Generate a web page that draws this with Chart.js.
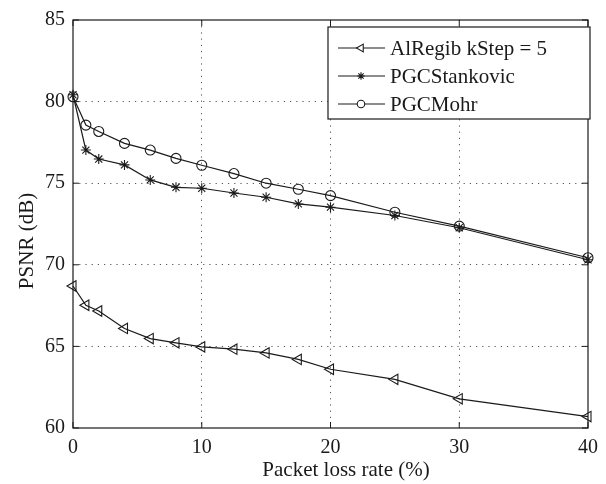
<!DOCTYPE html>
<html>
<head>
<meta charset="utf-8">
<script src="https://cdn.jsdelivr.net/npm/chart.js@4.4.1/dist/chart.umd.min.js"></script>
<style>
  html, body { margin: 0; padding: 0; background: #fff; }
  #wrap { width: 606px; height: 484px; }
</style>
</head>
<body>
<div id="wrap"><canvas id="chart" width="606" height="484"></canvas></div>
<script>
const lossRates = [0, 1, 2, 4, 6, 8, 10, 12.5, 15, 17.5, 20, 25, 30, 40];
const alRegib = [68.7, 67.52, 67.17, 66.1, 65.48, 65.22, 64.97, 64.83, 64.6, 64.2, 63.6, 62.98, 61.79, 60.7];
const pgcStankovic = [80.42, 77.03, 76.48, 76.12, 75.2, 74.75, 74.69, 74.4, 74.14, 73.73, 73.53, 73.02, 72.27, 70.31];
const pgcMohr = [80.3, 78.56, 78.17, 77.44, 77.03, 76.52, 76.1, 75.59, 75.0, 74.63, 74.24, 73.22, 72.37, 70.43];
const seriesNames = ['AlRegib kStep = 5', 'PGCStankovic', 'PGCMohr'];
const xTicks = [0, 10, 20, 30, 40];
const yTicks = [60, 65, 70, 75, 80, 85];
const xTitle = 'Packet loss rate (%)';
const yTitle = 'PSNR (dB)';

const FONT = '"Liberation Serif", "Times New Roman", serif';
const INK = '#1a1a1a';
const NONE = 'rgba(0,0,0,0)';

function toPoints(values) {
    return lossRates.map((x, i) => ({ x: x, y: values[i] }));
}

function makeDataset(label, values, style, radius, rotation) {
    return {
        label: label,
        data: toPoints(values),
        borderColor: INK,
        borderWidth: 1.2,
        backgroundColor: NONE,
        pointStyle: style,
        pointRadius: radius,
        pointRotation: rotation,
        pointBorderColor: INK,
        pointBorderWidth: 1.1,
        pointBackgroundColor: NONE,
        fill: false,
        clip: false,
        tension: 0
    };
}

// plot frame, inward ticks, axis titles and in-plot legend
const framePlugin = {
    id: 'frame',
    afterDatasetsDraw(chart) {
        const { ctx, chartArea: a, scales } = chart;
        ctx.save();
        ctx.strokeStyle = INK;
        ctx.lineWidth = 1.2;
        ctx.strokeRect(a.left, a.top, a.right - a.left, a.bottom - a.top);

        ctx.lineWidth = 1;
        ctx.beginPath();
        xTicks.forEach(v => {
            const px = scales.x.getPixelForValue(v);
            ctx.moveTo(px, a.bottom); ctx.lineTo(px, a.bottom - 6);
            ctx.moveTo(px, a.top); ctx.lineTo(px, a.top + 6);
        });
        yTicks.forEach(v => {
            const py = scales.y.getPixelForValue(v);
            ctx.moveTo(a.left, py); ctx.lineTo(a.left + 6, py);
            ctx.moveTo(a.right, py); ctx.lineTo(a.right - 6, py);
        });
        ctx.stroke();

        // axis titles
        ctx.fillStyle = INK;
        ctx.font = '21px ' + FONT;
        ctx.textAlign = 'center';
        ctx.textBaseline = 'middle';
        ctx.fillText(xTitle, 346, 470);
        ctx.save();
        ctx.translate(27, 241);
        ctx.rotate(-Math.PI / 2);
        ctx.fillText(yTitle, 0, 0);
        ctx.restore();

        // legend box
        const box = { left: 328, top: 27, right: 590, bottom: 119 };
        ctx.fillStyle = '#fff';
        ctx.fillRect(box.left, box.top, box.right - box.left, box.bottom - box.top);
        ctx.strokeStyle = INK;
        ctx.lineWidth = 1.2;
        ctx.strokeRect(box.left, box.top, box.right - box.left, box.bottom - box.top);

        chart.data.datasets.forEach((ds, i) => {
            const y = 48 + i * 28;
            ctx.strokeStyle = INK;
            ctx.beginPath();
            ctx.lineWidth = 1.2;
            ctx.moveTo(338, y);
            ctx.lineTo(385, y);
            ctx.stroke();
            ctx.lineWidth = 1.1;
            ctx.fillStyle = '#fff';
            Chart.helpers.drawPoint(ctx, {
                pointStyle: ds.pointStyle,
                radius: ds.pointRadius * 0.75,
                rotation: ds.pointRotation,
                borderWidth: 1.1
            }, 361, y);
            ctx.fillStyle = INK;
            ctx.font = '21px ' + FONT;
            ctx.textAlign = 'left';
            ctx.textBaseline = 'middle';
            ctx.fillText(ds.label, 390, y + 1);
        });
        ctx.restore();
    }
};

const gridColor = ctx => {
    const v = ctx.tick && ctx.tick.value;
    if (ctx.scale.axis === 'x' && (v === 0 || v === 40)) return NONE;
    if (ctx.scale.axis === 'y' && (v === 60 || v === 85)) return NONE;
    return '#555';
};

new Chart(document.getElementById('chart').getContext('2d'), {
    type: 'line',
    data: {
        datasets: [
            makeDataset(seriesNames[0], alRegib, 'triangle', 6, -90),
            makeDataset(seriesNames[1], pgcStankovic, 'star', 5, 0),
            makeDataset(seriesNames[2], pgcMohr, 'circle', 5, 0)
        ]
    },
    options: {
        responsive: false,
        animation: false,
        layout: { padding: { left: 0, top: 19, right: 8, bottom: 0 } },
        plugins: {
            legend: { display: false },
            tooltip: { enabled: false }
        },
        scales: {
            x: {
                type: 'linear',
                min: 0,
                max: 40,
                afterFit(scale) { scale.height = 56; },
                afterBuildTicks(scale) { scale.ticks = xTicks.map(v => ({ value: v })); },
                ticks: { color: INK, padding: 8, font: { family: FONT, size: 20 } },
                grid: { drawTicks: false, color: gridColor, lineWidth: 1 },
                border: { display: false, dash: [1.2, 5] }
            },
            y: {
                min: 60,
                max: 85,
                afterFit(scale) { scale.width = 73; },
                afterBuildTicks(scale) { scale.ticks = yTicks.map(v => ({ value: v })); },
                ticks: { color: INK, padding: 8, font: { family: FONT, size: 20 } },
                grid: { drawTicks: false, color: gridColor, lineWidth: 1 },
                border: { display: false, dash: [1.2, 5] }
            }
        }
    },
    plugins: [framePlugin]
});
</script>
</body>
</html>
